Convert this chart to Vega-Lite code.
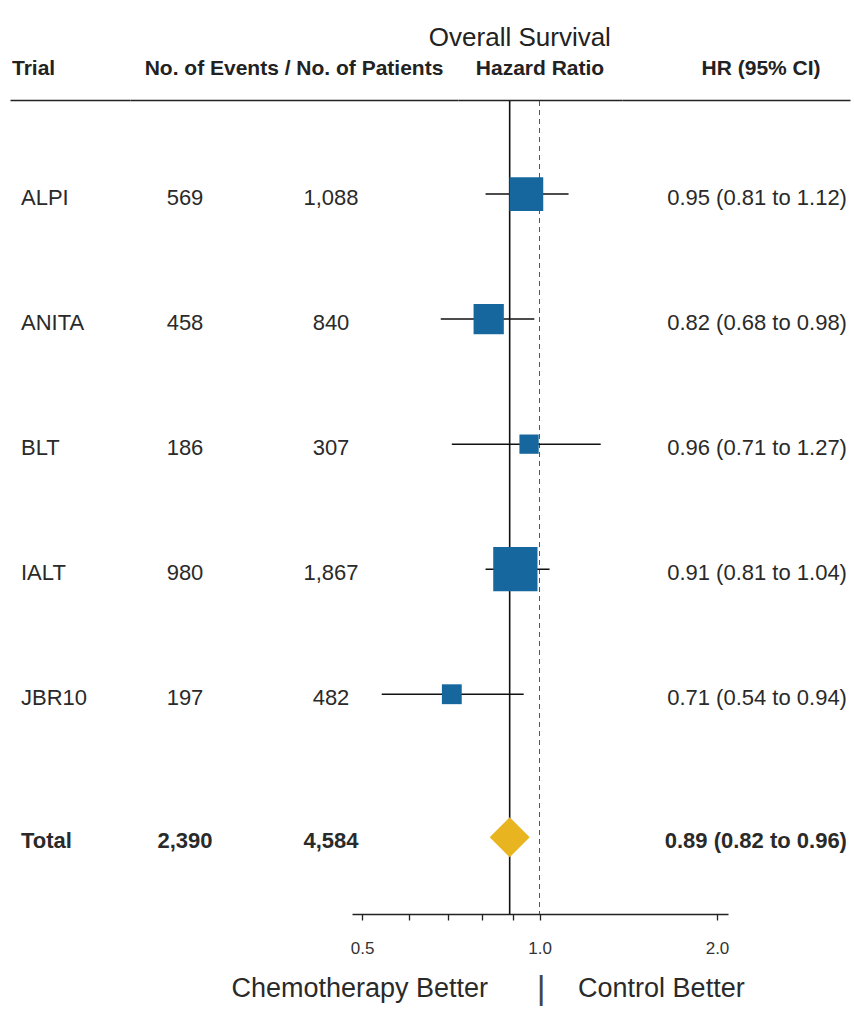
{
  "$schema": "https://vega.github.io/schema/vega-lite/v6.json",
  "background": "white",
  "padding": {"left": 10, "top": 0, "right": 4, "bottom": 0},
  "spacing": 0,
  "config": {"view": {"stroke": null}, "font": "Liberation Sans", "concat": {"spacing": 0}},
  "datasets": {
    "trials": [
      {"trial": "ALPI", "events": 569, "patients": 1088, "hr": 0.95, "lo": 0.81, "hi": 1.12, "ci": "0.95 (0.81 to 1.12)"},
      {"trial": "ANITA", "events": 458, "patients": 840, "hr": 0.82, "lo": 0.68, "hi": 0.98, "ci": "0.82 (0.68 to 0.98)"},
      {"trial": "BLT", "events": 186, "patients": 307, "hr": 0.96, "lo": 0.71, "hi": 1.27, "ci": "0.96 (0.71 to 1.27)"},
      {"trial": "IALT", "events": 980, "patients": 1867, "hr": 0.91, "lo": 0.81, "hi": 1.04, "ci": "0.91 (0.81 to 1.04)"},
      {"trial": "JBR10", "events": 197, "patients": 482, "hr": 0.71, "lo": 0.54, "hi": 0.94, "ci": "0.71 (0.54 to 0.94)"},
      {"trial": "Total", "events": 2390, "patients": 4584, "hr": 0.89, "lo": 0.82, "hi": 0.96, "ci": "0.89 (0.82 to 0.96)"}
    ],
    "headers": [
      {"key": "title", "label": "Overall Survival"},
      {"key": "trial", "label": "Trial"},
      {"key": "counts", "label": "No. of Events / No. of Patients"},
      {"key": "hazard", "label": "Hazard Ratio"},
      {"key": "hrci", "label": "HR (95% CI)"}
    ],
    "footer": [
      {"key": "left", "label": "Chemotherapy Better"},
      {"key": "bar", "label": "|"},
      {"key": "right", "label": "Control Better"}
    ]
  },
  "vconcat": [
    {
      "width": 840, "height": 50,
      "data": {"name": "headers"},
      "transform": [{"filter": "datum.key === 'title'"}],
      "mark": {"type": "text", "align": "center", "baseline": "middle", "fontSize": 26, "color": "#222"},
      "encoding": {
        "x": {"datum": "c", "type": "nominal", "scale": {"type": "point", "domain": ["c"], "padding": 0, "align": 0.607}, "axis": null},
        "y": {"datum": "c", "type": "nominal", "scale": {"type": "point", "domain": ["c"], "padding": 0, "align": 0.76}, "axis": null},
        "text": {"field": "label"}
      }
    },
    {
      "bounds": "flush",
      "hconcat": [
        {
          "width": 120, "height": 49,
          "data": {"name": "headers"},
          "transform": [{"filter": "datum.key === 'trial'"}],
          "mark": {"type": "text", "align": "left", "baseline": "middle", "fontSize": 21, "fontWeight": "bold", "color": "#222"},
          "encoding": {
            "x": {"datum": "c", "type": "nominal", "scale": {"type": "point", "domain": ["c"], "padding": 0, "align": 0.0167}, "axis": {"orient": "bottom", "labels": false, "ticks": false, "title": null, "domain": true, "domainColor": "#222", "domainWidth": 1.5, "grid": false}},
            "y": {"datum": "c", "type": "nominal", "scale": {"type": "point", "domain": ["c"], "padding": 0, "align": 0.367}, "axis": null},
            "text": {"field": "label"}
          }
        },
        {
          "width": 328, "height": 49,
          "data": {"name": "headers"},
          "transform": [{"filter": "datum.key === 'counts'"}],
          "mark": {"type": "text", "align": "center", "baseline": "middle", "fontSize": 21, "fontWeight": "bold", "color": "#222"},
          "encoding": {
            "x": {"datum": "c", "type": "nominal", "scale": {"type": "point", "domain": ["c"], "padding": 0, "align": 0.5}, "axis": {"orient": "bottom", "labels": false, "ticks": false, "title": null, "domain": true, "domainColor": "#222", "domainWidth": 1.5, "grid": false}},
            "y": {"datum": "c", "type": "nominal", "scale": {"type": "point", "domain": ["c"], "padding": 0, "align": 0.367}, "axis": null},
            "text": {"field": "label"}
          }
        },
        {
          "width": 164, "height": 49,
          "data": {"name": "headers"},
          "transform": [{"filter": "datum.key === 'hazard'"}],
          "mark": {"type": "text", "align": "center", "baseline": "middle", "fontSize": 21, "fontWeight": "bold", "color": "#222"},
          "encoding": {
            "x": {"datum": "c", "type": "nominal", "scale": {"type": "point", "domain": ["c"], "padding": 0, "align": 0.5}, "axis": {"orient": "bottom", "labels": false, "ticks": false, "title": null, "domain": true, "domainColor": "#222", "domainWidth": 1.5, "grid": false}},
            "y": {"datum": "c", "type": "nominal", "scale": {"type": "point", "domain": ["c"], "padding": 0, "align": 0.367}, "axis": null},
            "text": {"field": "label"}
          }
        },
        {
          "width": 228, "height": 49,
          "data": {"name": "headers"},
          "transform": [{"filter": "datum.key === 'hrci'"}],
          "mark": {"type": "text", "align": "center", "baseline": "middle", "fontSize": 21, "fontWeight": "bold", "color": "#222"},
          "encoding": {
            "x": {"datum": "c", "type": "nominal", "scale": {"type": "point", "domain": ["c"], "padding": 0, "align": 0.61}, "axis": {"orient": "bottom", "labels": false, "ticks": false, "title": null, "domain": true, "domainColor": "#222", "domainWidth": 1.5, "grid": false}},
            "y": {"datum": "c", "type": "nominal", "scale": {"type": "point", "domain": ["c"], "padding": 0, "align": 0.367}, "axis": null},
            "text": {"field": "label"}
          }
        }
      ]
    },
    {
      "bounds": "flush",
      "hconcat": [
        {
          "width": 50, "height": 813,
          "data": {"name": "trials"},
          "encoding": {
            "x": {"datum": "c", "type": "nominal", "scale": {"type": "point", "domain": ["c"], "padding": 0, "align": 0.22}, "axis": null},
            "y": {"field": "trial", "type": "nominal", "scale": {"type": "point", "domain": ["t1","t2","t3","t4","ALPI","s1","s2","s3","s4","s5","s6","ANITA","s7","s8","s9","s10","s11","s12","BLT","s13","s14","s15","s16","s17","s18","IALT","s19","s20","s21","s22","s23","s24","JBR10","s25","s26","s27","s28","s29","s30","s31","Total","b1","b2","b3","b4"], "padding": 0.756, "align": 0.8}, "axis": null},
            "text": {"field": "trial"}
          },
          "layer": [
            {"transform": [{"filter": "datum.trial !== 'Total'"}], "mark": {"type": "text", "align": "left", "baseline": "middle", "fontSize": 22, "color": "#2a2a2a", "dy": 4}},
            {"transform": [{"filter": "datum.trial === 'Total'"}], "mark": {"type": "text", "align": "left", "baseline": "middle", "fontSize": 22, "fontWeight": "bold", "color": "#2a2a2a", "dy": 4}}
          ]
        },
        {
          "width": 250, "height": 813,
          "data": {"name": "trials"},
          "encoding": {
            "x": {"datum": "c", "type": "nominal", "scale": {"type": "point", "domain": ["c"], "padding": 0, "align": 0.5}, "axis": null},
            "y": {"field": "trial", "type": "nominal", "scale": {"type": "point", "domain": ["t1","t2","t3","t4","ALPI","s1","s2","s3","s4","s5","s6","ANITA","s7","s8","s9","s10","s11","s12","BLT","s13","s14","s15","s16","s17","s18","IALT","s19","s20","s21","s22","s23","s24","JBR10","s25","s26","s27","s28","s29","s30","s31","Total","b1","b2","b3","b4"], "padding": 0.756, "align": 0.8}, "axis": null},
            "text": {"field": "events", "type": "quantitative", "format": ","}
          },
          "layer": [
            {"transform": [{"filter": "datum.trial !== 'Total'"}], "mark": {"type": "text", "align": "center", "baseline": "middle", "fontSize": 22, "color": "#2a2a2a", "dy": 4}},
            {"transform": [{"filter": "datum.trial === 'Total'"}], "mark": {"type": "text", "align": "center", "baseline": "middle", "fontSize": 22, "fontWeight": "bold", "color": "#2a2a2a", "dy": 4}}
          ]
        },
        {
          "width": 42, "height": 813,
          "data": {"name": "trials"},
          "encoding": {
            "x": {"datum": "c", "type": "nominal", "scale": {"type": "point", "domain": ["c"], "padding": 0, "align": 0.5}, "axis": null},
            "y": {"field": "trial", "type": "nominal", "scale": {"type": "point", "domain": ["t1","t2","t3","t4","ALPI","s1","s2","s3","s4","s5","s6","ANITA","s7","s8","s9","s10","s11","s12","BLT","s13","s14","s15","s16","s17","s18","IALT","s19","s20","s21","s22","s23","s24","JBR10","s25","s26","s27","s28","s29","s30","s31","Total","b1","b2","b3","b4"], "padding": 0.756, "align": 0.8}, "axis": null},
            "text": {"field": "patients", "type": "quantitative", "format": ","}
          },
          "layer": [
            {"transform": [{"filter": "datum.trial !== 'Total'"}], "mark": {"type": "text", "align": "center", "baseline": "middle", "fontSize": 22, "color": "#2a2a2a", "dy": 4}},
            {"transform": [{"filter": "datum.trial === 'Total'"}], "mark": {"type": "text", "align": "center", "baseline": "middle", "fontSize": 22, "fontWeight": "bold", "color": "#2a2a2a", "dy": 4}}
          ]
        },
        {
          "width": 376, "height": 813,
          "data": {"name": "trials"},
          "layer": [
            {
              "transform": [{"filter": "datum.trial === 'Total'"}],
              "mark": {"type": "rule", "color": "#555", "strokeWidth": 1, "strokeDash": [5, 4]},
              "encoding": {
                "x": {"datum": 1, "type": "quantitative", "scale": {"type": "log", "domain": [0.4808, 2.0878], "nice": false}, "axis": {"orient": "bottom", "values": [0.5, 0.6, 0.7, 0.8, 0.9, 1, 2], "labelExpr": "datum.value == 0.5 || datum.value == 1 || datum.value == 2 ? format(datum.value, '.1f') : ''", "tickSize": 6, "tickColor": "#222", "tickWidth": 1.3, "domainColor": "#222", "domainWidth": 1.6, "labelFontSize": 17, "labelColor": "#333", "labelPadding": 20, "labelFlush": false, "labelOverlap": false, "title": null, "grid": false}}
              }
            },
            {
              "transform": [{"filter": "datum.trial === 'Total'"}],
              "mark": {"type": "rule", "color": "#111", "strokeWidth": 1.6},
              "encoding": {
                "x": {"field": "hr", "type": "quantitative", "scale": {"type": "log", "domain": [0.4808, 2.0878], "nice": false}, "axis": {"orient": "bottom", "values": [0.5, 0.6, 0.7, 0.8, 0.9, 1, 2], "labelExpr": "datum.value == 0.5 || datum.value == 1 || datum.value == 2 ? format(datum.value, '.1f') : ''", "tickSize": 6, "tickColor": "#222", "tickWidth": 1.3, "domainColor": "#222", "domainWidth": 1.6, "labelFontSize": 17, "labelColor": "#333", "labelPadding": 20, "labelFlush": false, "labelOverlap": false, "title": null, "grid": false}}
              }
            },
            {
              "transform": [{"filter": "datum.trial !== 'Total'"}],
              "mark": {"type": "rule", "color": "#111", "strokeWidth": 1.5},
              "encoding": {
                "x": {"field": "lo", "type": "quantitative", "scale": {"type": "log", "domain": [0.4808, 2.0878], "nice": false}, "axis": {"orient": "bottom", "values": [0.5, 0.6, 0.7, 0.8, 0.9, 1, 2], "labelExpr": "datum.value == 0.5 || datum.value == 1 || datum.value == 2 ? format(datum.value, '.1f') : ''", "tickSize": 6, "tickColor": "#222", "tickWidth": 1.3, "domainColor": "#222", "domainWidth": 1.6, "labelFontSize": 17, "labelColor": "#333", "labelPadding": 20, "labelFlush": false, "labelOverlap": false, "title": null, "grid": false}},
                "x2": {"field": "hi"},
                "y": {"field": "trial", "type": "nominal", "scale": {"type": "point", "domain": ["t1","t2","t3","t4","ALPI","s1","s2","s3","s4","s5","s6","ANITA","s7","s8","s9","s10","s11","s12","BLT","s13","s14","s15","s16","s17","s18","IALT","s19","s20","s21","s22","s23","s24","JBR10","s25","s26","s27","s28","s29","s30","s31","Total","b1","b2","b3","b4"], "padding": 0.756, "align": 0.8}, "axis": null}
              }
            },
            {
              "transform": [{"filter": "datum.trial !== 'Total'"}],
              "mark": {"type": "square", "filled": true, "color": "#17679f", "opacity": 1},
              "encoding": {
                "x": {"field": "hr", "type": "quantitative", "scale": {"type": "log", "domain": [0.4808, 2.0878], "nice": false}, "axis": {"orient": "bottom", "values": [0.5, 0.6, 0.7, 0.8, 0.9, 1, 2], "labelExpr": "datum.value == 0.5 || datum.value == 1 || datum.value == 2 ? format(datum.value, '.1f') : ''", "tickSize": 6, "tickColor": "#222", "tickWidth": 1.3, "domainColor": "#222", "domainWidth": 1.6, "labelFontSize": 17, "labelColor": "#333", "labelPadding": 20, "labelFlush": false, "labelOverlap": false, "title": null, "grid": false}},
                "y": {"field": "trial", "type": "nominal", "scale": {"type": "point", "domain": ["t1","t2","t3","t4","ALPI","s1","s2","s3","s4","s5","s6","ANITA","s7","s8","s9","s10","s11","s12","BLT","s13","s14","s15","s16","s17","s18","IALT","s19","s20","s21","s22","s23","s24","JBR10","s25","s26","s27","s28","s29","s30","s31","Total","b1","b2","b3","b4"], "padding": 0.756, "align": 0.8}, "axis": null},
                "size": {"field": "events", "type": "quantitative", "scale": {"type": "linear", "domain": [0, 1000], "range": [0, 2000]}, "legend": null}
              }
            },
            {
              "transform": [{"filter": "datum.trial === 'Total'"}],
              "mark": {"type": "point", "shape": "diamond", "filled": true, "color": "#e8b420", "opacity": 1, "size": 1600},
              "encoding": {
                "x": {"field": "hr", "type": "quantitative", "scale": {"type": "log", "domain": [0.4808, 2.0878], "nice": false}, "axis": {"orient": "bottom", "values": [0.5, 0.6, 0.7, 0.8, 0.9, 1, 2], "labelExpr": "datum.value == 0.5 || datum.value == 1 || datum.value == 2 ? format(datum.value, '.1f') : ''", "tickSize": 6, "tickColor": "#222", "tickWidth": 1.3, "domainColor": "#222", "domainWidth": 1.6, "labelFontSize": 17, "labelColor": "#333", "labelPadding": 20, "labelFlush": false, "labelOverlap": false, "title": null, "grid": false}},
                "y": {"field": "trial", "type": "nominal", "scale": {"type": "point", "domain": ["t1","t2","t3","t4","ALPI","s1","s2","s3","s4","s5","s6","ANITA","s7","s8","s9","s10","s11","s12","BLT","s13","s14","s15","s16","s17","s18","IALT","s19","s20","s21","s22","s23","s24","JBR10","s25","s26","s27","s28","s29","s30","s31","Total","b1","b2","b3","b4"], "padding": 0.756, "align": 0.8}, "axis": null}
              }
            }
          ]
        },
        {
          "width": 122, "height": 813,
          "data": {"name": "trials"},
          "encoding": {
            "x": {"datum": "c", "type": "nominal", "scale": {"type": "point", "domain": ["c"], "padding": 0, "align": 0.975}, "axis": null},
            "y": {"field": "trial", "type": "nominal", "scale": {"type": "point", "domain": ["t1","t2","t3","t4","ALPI","s1","s2","s3","s4","s5","s6","ANITA","s7","s8","s9","s10","s11","s12","BLT","s13","s14","s15","s16","s17","s18","IALT","s19","s20","s21","s22","s23","s24","JBR10","s25","s26","s27","s28","s29","s30","s31","Total","b1","b2","b3","b4"], "padding": 0.756, "align": 0.8}, "axis": null},
            "text": {"field": "ci"}
          },
          "layer": [
            {"transform": [{"filter": "datum.trial !== 'Total'"}], "mark": {"type": "text", "align": "right", "baseline": "middle", "fontSize": 22, "color": "#2a2a2a", "dy": 4}},
            {"transform": [{"filter": "datum.trial === 'Total'"}], "mark": {"type": "text", "align": "right", "baseline": "middle", "fontSize": 22, "fontWeight": "bold", "color": "#2a2a2a", "dy": 4}}
          ]
        }
      ]
    },
    {
      "width": 840, "height": 66,
      "data": {"name": "footer"},
      "encoding": {
        "x": {"datum": 1, "type": "quantitative", "scale": {"type": "log", "domain": [0.1256, 3.343], "nice": false}, "axis": null},
        "text": {"field": "label"}
      },
      "layer": [
        {"transform": [{"filter": "datum.key === 'left'"}], "mark": {"type": "text", "align": "right", "baseline": "middle", "dx": -53, "fontSize": 27, "color": "#2a2a2a"}},
        {"transform": [{"filter": "datum.key === 'bar'"}], "mark": {"type": "text", "align": "center", "baseline": "middle", "fontSize": 34, "color": "#444"}},
        {"transform": [{"filter": "datum.key === 'right'"}], "mark": {"type": "text", "align": "left", "baseline": "middle", "dx": 37, "fontSize": 27, "color": "#2a2a2a"}}
      ]
    }
  ]
}
